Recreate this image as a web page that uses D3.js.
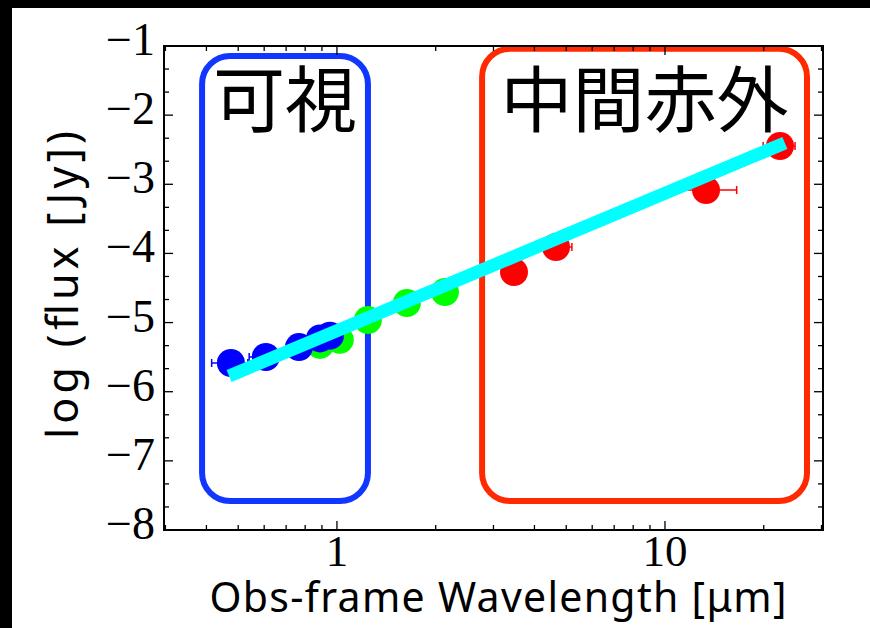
<!DOCTYPE html>
<html>
<head>
<meta charset="utf-8">
<script src="https://cdn.jsdelivr.net/npm/d3@7"></script>
<style>
  html, body { margin: 0; padding: 0; background: #fff; }
  svg { display: block; }
</style>
</head>
<body>
<svg id="chart" width="870" height="628"></svg>
<script>
// Broadband photometry (observed-frame) with a power-law fit
const blueWave  = [0.475, 0.607, 0.766, 0.888, 0.952];
const blueFlux  = [-5.585, -5.498, -5.354, -5.230, -5.190];
const blueErr   = [0.060, 0.067, 0, 0, 0];

const greenWave = [0.888, 1.020, 1.243, 1.634, 2.134];
const greenFlux = [-5.324, -5.250, -4.963, -4.717, -4.558];

const redWave   = [3.465, 4.653, 13.34, 22.42];
const redFlux   = [-4.269, -3.907, -3.083, -2.446];
const redErr    = [0, 0.55, 3.2, 2.5];

// Power-law fit, straight in log-log space
const fitWave = [0.469, 23.2];
const fitFlux = [-5.773, -2.403];

// Wavelength bands: [wave min, wave max] and [flux top, flux bottom]
const bandNames  = ["可視", "中間赤外"];
const bandWave   = [[0.388, 1.243], [2.77, 27.1]];
const bandFlux   = [[-1.145, -7.58], [-1.04, -7.58]];
const bandColors = ["#1036ff", "#ff2a00"];

const yTicks = [-1, -2, -3, -4, -5, -6, -7, -8];
const xTicks = [1, 10];

(function () {
  const svg = d3.select("#chart");
  const W = 870, H = 628;
  const mLeft = 164, mRight = 823, mTop = 46, mBottom = 530;

  svg.append("rect").attr("width", W).attr("height", H).attr("fill", "#fff");
  // dark frame edges of the figure
  svg.append("rect").attr("x", 0).attr("y", 0).attr("width", W).attr("height", 8).attr("fill", "#000");
  svg.append("rect").attr("x", 0).attr("y", 0).attr("width", 12).attr("height", H).attr("fill", "#000");

  const x = d3.scaleLog().domain([0.297, 30.32]).range([mLeft, mRight]);
  const y = d3.scaleLinear().domain([-8, -1]).range([mBottom, mTop]);

  const plot = svg.append("g");

  // band outlines
  bandNames.forEach((name, i) => {
    const x0 = x(bandWave[i][0]), x1 = x(bandWave[i][1]);
    const y0 = y(bandFlux[i][0]), y1 = y(bandFlux[i][1]);
    plot.append("rect")
      .attr("x", x0).attr("y", y0)
      .attr("width", x1 - x0).attr("height", y1 - y0)
      .attr("rx", 28).attr("ry", 28)
      .attr("fill", "none")
      .attr("stroke", bandColors[i])
      .attr("stroke-width", 6);
  });

  // horizontal error bars with caps
  function errBars(wave, flux, err, color) {
    wave.forEach((w, i) => {
      if (!err[i]) return;
      const xa = x(w - err[i]), xb = x(w + err[i]), yy = y(flux[i]);
      const g = plot.append("g").attr("stroke", color).attr("stroke-width", 1.5);
      g.append("line").attr("x1", xa).attr("x2", xb).attr("y1", yy).attr("y2", yy);
      g.append("line").attr("x1", xa).attr("x2", xa).attr("y1", yy - 4).attr("y2", yy + 4);
      g.append("line").attr("x1", xb).attr("x2", xb).attr("y1", yy - 4).attr("y2", yy + 4);
    });
  }
  errBars(blueWave, blueFlux, blueErr, "#0000ff");
  errBars(redWave, redFlux, redErr, "#ff0000");

  function dots(wave, flux, color) {
    plot.append("g").selectAll("circle")
      .data(wave.map((w, i) => [w, flux[i]]))
      .join("circle")
      .attr("cx", d => x(d[0]))
      .attr("cy", d => y(d[1]))
      .attr("r", 14)
      .attr("fill", color);
  }
  dots(greenWave, greenFlux, "#00ff00");
  dots(blueWave, blueFlux, "#0000ff");
  dots(redWave, redFlux, "#ff0000");

  // fit line
  plot.append("path")
    .datum(fitWave.map((w, i) => [w, fitFlux[i]]))
    .attr("d", d3.line().x(d => x(d[0])).y(d => y(d[1])))
    .attr("stroke", "#00ffff")
    .attr("stroke-width", 13)
    .attr("fill", "none");

  // band labels
  bandNames.forEach((name, i) => {
    svg.append("text")
      .attr("x", (x(bandWave[i][0]) + x(bandWave[i][1])) / 2)
      .attr("y", 126)
      .attr("text-anchor", "middle")
      .attr("font-family", "'Noto Sans CJK JP', sans-serif")
      .attr("font-size", 72)
      .attr("fill", "#000")
      .text(name);
  });

  // axes: ticks point inward on all four sides
  const frame = svg.append("g");
  const xMinor = [];
  [0.1, 1, 10].forEach(d => {
    for (let k = 2; k <= 9; k++) {
      const v = k * d;
      if (v > 0.297 && v < 30.32) xMinor.push(v);
    }
  });
  const yMinor = [];
  for (let v = -8; v < -1; v++) { yMinor.push(v + 1 / 3, v + 2 / 3); }

  const tickG = frame.append("g").attr("stroke", "#000").attr("stroke-width", 1.3);
  xTicks.forEach(v => {
    tickG.append("line").attr("x1", x(v)).attr("x2", x(v)).attr("y1", mBottom).attr("y2", mBottom - 9);
    tickG.append("line").attr("x1", x(v)).attr("x2", x(v)).attr("y1", mTop).attr("y2", mTop + 9);
  });
  xMinor.forEach(v => {
    tickG.append("line").attr("x1", x(v)).attr("x2", x(v)).attr("y1", mBottom).attr("y2", mBottom - 5);
    tickG.append("line").attr("x1", x(v)).attr("x2", x(v)).attr("y1", mTop).attr("y2", mTop + 5);
  });
  yTicks.forEach(v => {
    tickG.append("line").attr("x1", mLeft).attr("x2", mLeft + 9).attr("y1", y(v)).attr("y2", y(v));
    tickG.append("line").attr("x1", mRight).attr("x2", mRight - 9).attr("y1", y(v)).attr("y2", y(v));
  });
  yMinor.forEach(v => {
    tickG.append("line").attr("x1", mLeft).attr("x2", mLeft + 5).attr("y1", y(v)).attr("y2", y(v));
    tickG.append("line").attr("x1", mRight).attr("x2", mRight - 5).attr("y1", y(v)).attr("y2", y(v));
  });

  frame.append("rect")
    .attr("x", mLeft).attr("y", mTop)
    .attr("width", mRight - mLeft).attr("height", mBottom - mTop)
    .attr("fill", "none").attr("stroke", "#000").attr("stroke-width", 2);

  // tick labels
  const serif = "'Liberation Serif', 'DejaVu Serif', serif";
  yTicks.forEach(v => {
    svg.append("text")
      .attr("x", 155).attr("y", y(v) + 9)
      .attr("text-anchor", "end")
      .attr("font-family", serif).attr("font-size", 46)
      .text("\u2212" + Math.abs(v));
  });
  xTicks.forEach(v => {
    svg.append("text")
      .attr("x", x(v)).attr("y", 566)
      .attr("text-anchor", "middle")
      .attr("font-family", serif).attr("font-size", 45)
      .text(String(v));
  });

  // axis titles
  const sans = "'Noto Sans', 'DejaVu Sans', sans-serif";
  svg.append("text")
    .attr("x", 498).attr("y", 612)
    .attr("text-anchor", "middle")
    .attr("font-family", sans).attr("font-size", 41)
    .attr("textLength", 577).attr("lengthAdjust", "spacing")
    .text("Obs-frame Wavelength [μm]");
  svg.append("text")
    .attr("transform", "translate(78,285) rotate(-90)")
    .attr("text-anchor", "middle")
    .attr("font-family", sans).attr("font-size", 43)
    .attr("textLength", 308).attr("lengthAdjust", "spacing")
    .text("log (flux [Jy])");
})();
</script>
</body>
</html>
